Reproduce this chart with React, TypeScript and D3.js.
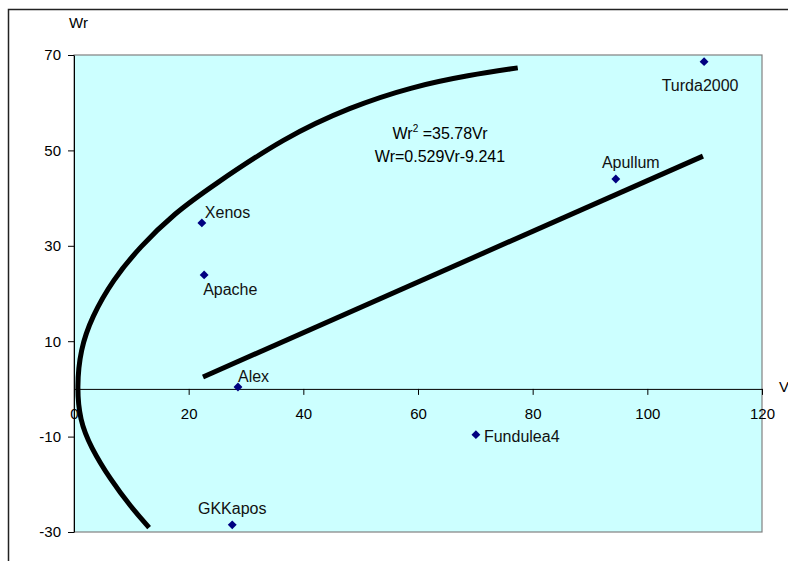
import React, { useEffect, useRef } from "react";
import * as d3 from "d3";

// cultivars (Vr, Wr)
const names = ["Turda2000", "Apullum", "Xenos", "Apache", "Alex", "Fundulea4", "GKKapos"];
const vrValues = [109.9, 94.5, 22.3, 22.7, 28.6, 70.1, 27.6];
const wrValues = [68.6, 44.0, 34.8, 23.9, 0.4, -9.6, -28.5];
// label offsets relative to the marker (dx, dy, anchor)
const labelPos: [number, number, string][] = [
  [-4, 24, "middle"],
  [15, -17, "middle"],
  [3, -11, "start"],
  [-1, 15, "start"],
  [0, -11, "start"],
  [8, 2, "start"],
  [0, -16, "middle"],
];

// limiting parabola
const curveVr = [77.4, 69.0, 58.8, 48.2, 36.8, 23.8, 17.6, 11.5, 6.8, 3.1, 1.1, 0.5, 1.0, 2.9, 6.4, 9.9, 13.1];
const curveWr = [67.3, 65.8, 63.3, 59.1, 52.8, 42.3, 36.9, 29.8, 22.9, 15.1, 8.2, 0.4, -6.5, -12.2, -19.1, -24.7, -29.1];

// regression line
const lineVr = [22.5, 109.7];
const lineWr = [2.5, 48.8];

const xTicks = [0, 20, 40, 60, 80, 100, 120];
const yTicks = [70, 50, 30, 10, -10, -30];

const App = () => {
  const ref = useRef<SVGSVGElement>(null);

  useEffect(() => {
    const width = 788;
    const height = 561;
    const left = 74, right = 762, top = 55, bottom = 532;

    const svg = d3.select(ref.current).attr("width", width).attr("height", height);
    svg.selectAll("*").remove();

    const x = d3.scaleLinear().domain([0, 120]).range([left, right]);
    const y = d3.scaleLinear().domain([-30, 70]).range([bottom, top]);
    const font = "Liberation Sans, Arial, sans-serif";

    // outer frame
    svg.append("rect")
      .attr("x", 8.5).attr("y", 9.5)
      .attr("width", width + 20).attr("height", height + 20)
      .attr("fill", "white").attr("stroke", "#222").attr("stroke-width", 1.5);

    // plot area
    svg.append("rect")
      .attr("x", left).attr("y", top)
      .attr("width", right - left).attr("height", bottom - top)
      .attr("fill", "#ccffff").attr("stroke", "#808080").attr("stroke-width", 1.2);

    // y axis
    const yAxis = svg.append("g")
      .attr("transform", `translate(${left},0)`)
      .call(d3.axisLeft(y).tickValues(yTicks).tickFormat((d) => String(d)).tickSize(6).tickSizeOuter(0).tickPadding(7));
    yAxis.select(".domain").attr("stroke", "#000");
    yAxis.selectAll("text").attr("font-size", 15).attr("font-family", font).attr("fill", "#000");

    // x axis at Wr = 0
    const xAxis = svg.append("g")
      .attr("transform", `translate(0,${y(0)})`)
      .call(d3.axisBottom(x).tickValues(xTicks).tickFormat((d) => String(d)).tickSize(6).tickSizeOuter(0).tickPadding(13));
    xAxis.select(".domain").attr("stroke", "#000");
    xAxis.selectAll("text").attr("font-size", 15).attr("font-family", font).attr("fill", "#000");

    // axis titles
    svg.append("text").attr("x", 69).attr("y", 28)
      .attr("font-size", 15).attr("font-family", font).text("Wr");
    svg.append("text").attr("x", 779).attr("y", 392)
      .attr("font-size", 15).attr("font-family", font).text("Vr");

    // parabola
    const curve = d3.line<number>()
      .x((d, i) => x(curveVr[i]))
      .y((d, i) => y(curveWr[i]))
      .curve(d3.curveBasis);
    svg.append("path")
      .attr("d", curve(curveVr))
      .attr("fill", "none").attr("stroke", "#000").attr("stroke-width", 5);

    // regression line
    svg.append("line")
      .attr("x1", x(lineVr[0])).attr("y1", y(lineWr[0]))
      .attr("x2", x(lineVr[1])).attr("y2", y(lineWr[1]))
      .attr("stroke", "#000").attr("stroke-width", 5);

    // points
    const diamond = d3.symbol().type(d3.symbolDiamond2).size(50);
    names.forEach((name, i) => {
      const px = x(vrValues[i]);
      const py = y(wrValues[i]);
      svg.append("path")
        .attr("d", diamond())
        .attr("transform", `translate(${px},${py})`)
        .attr("fill", "#000080");
      const [dx, dy, anchor] = labelPos[i];
      svg.append("text")
        .attr("x", px + dx).attr("y", py + dy)
        .attr("dy", "0.35em")
        .attr("text-anchor", anchor)
        .attr("font-size", 16).attr("font-family", font).attr("fill", "#111")
        .text(name);
    });

    // equations
    const eq1 = svg.append("text").attr("x", 440).attr("y", 139)
      .attr("text-anchor", "middle").attr("font-size", 16).attr("font-family", font);
    eq1.append("tspan").text("Wr");
    eq1.append("tspan").attr("font-size", 10).attr("dy", -7).text("2");
    eq1.append("tspan").attr("dy", 7).text(" =35.78Vr");
    svg.append("text").attr("x", 440).attr("y", 162)
      .attr("text-anchor", "middle").attr("font-size", 16).attr("font-family", font)
      .text("Wr=0.529Vr-9.241");
  }, []);

  return <svg ref={ref} style={{ position: "absolute", left: 0, top: 0 }}></svg>;
};

export default App;
